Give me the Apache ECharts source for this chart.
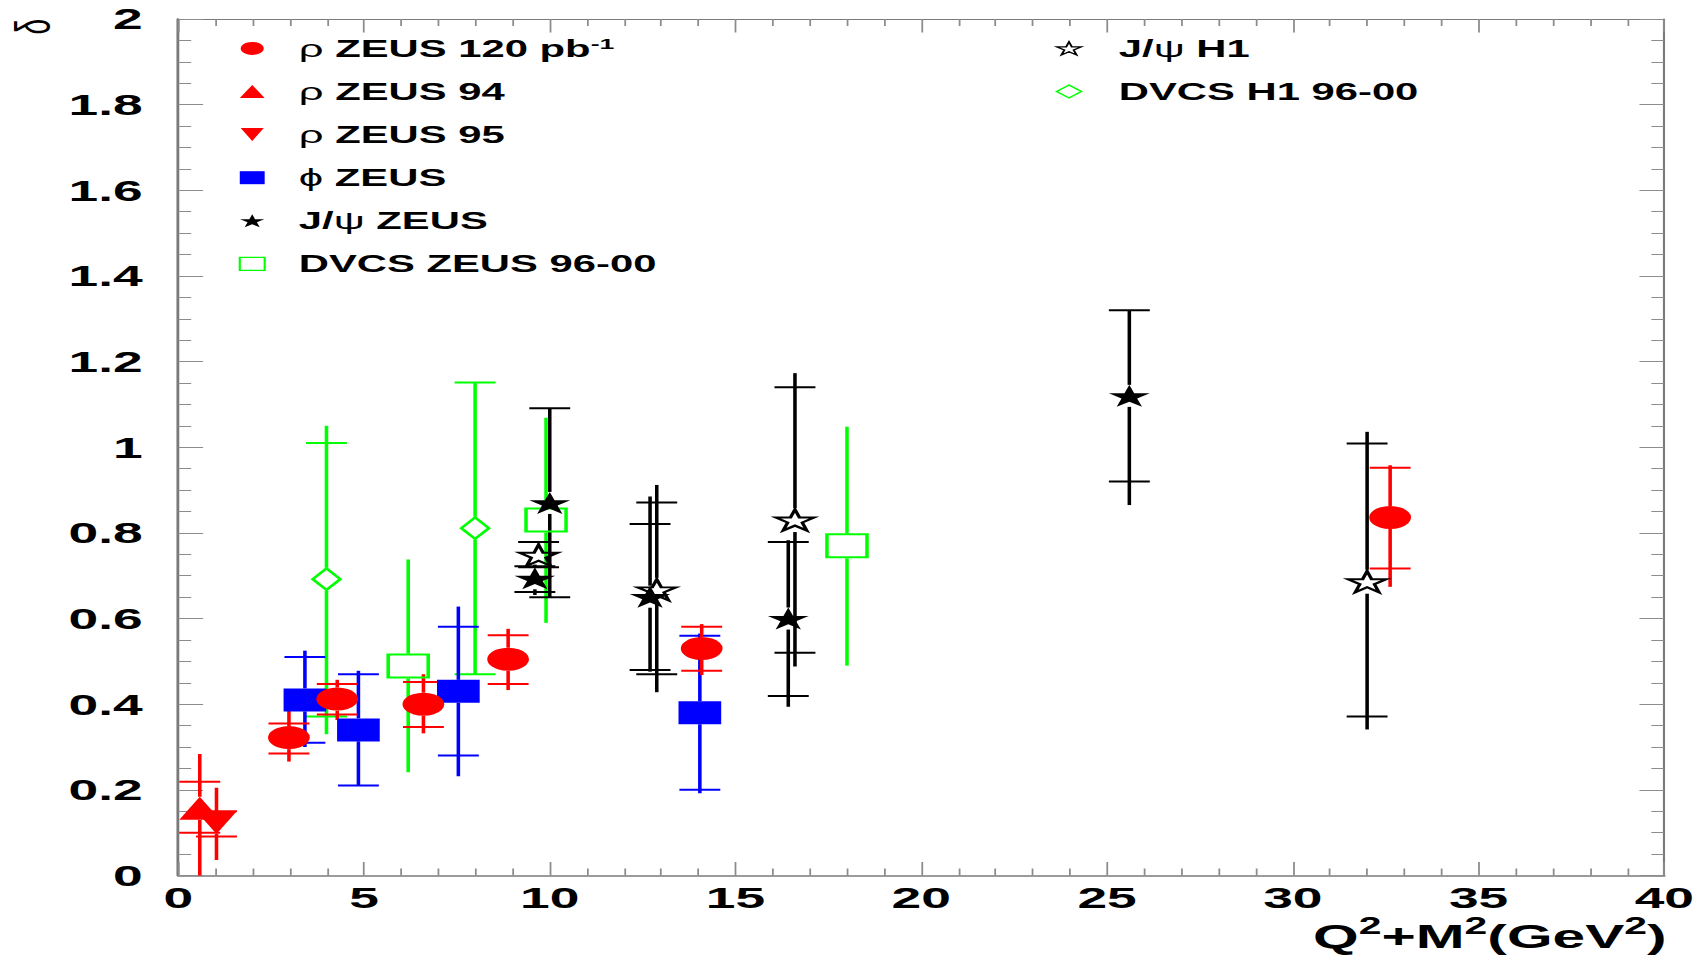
<!DOCTYPE html>
<html>
<head>
<meta charset="utf-8">
<script src="https://cdn.jsdelivr.net/npm/echarts@6/dist/echarts.min.js"></script>
<style>
  html, body { margin: 0; padding: 0; background: #fff; overflow: hidden; }
  #wrap { width: 1704px; height: 958px; overflow: hidden; }
  /* the plot is laid out on a square canvas and widened to the page */
  #chart { width: 958px; height: 958px; transform: scaleX(1.778706); transform-origin: 0 0; }
</style>
</head>
<body>
<div id="wrap"><div id="chart"></div></div>
<script>
// Each point: [Q2+M2, delta, statLow, statHigh, totalLow, totalHigh]
const rhoZeus120 = [
  [2.98, 0.322, 0.285, 0.355, 0.266, 0.396],
  [4.28, 0.412, 0.376, 0.447, 0.363, 0.457],
  [6.60, 0.400, 0.347, 0.452, 0.332, 0.470],
  [8.88, 0.505, 0.447, 0.561, 0.433, 0.576],
  [14.09, 0.530, 0.478, 0.581, 0.468, 0.587],
  [32.62, 0.836, 0.717, 0.952, 0.674, 0.958]
];
const rhoZeus94 = [
  [0.58, 0.157, 0.100, 0.219, -0.05, 0.284]
];
const rhoZeus95 = [
  [1.03, 0.124, 0.091, 0.150, 0.036, 0.205]
];
const phiZeus = [
  [3.41, 0.410, 0.310, 0.510, 0.300, 0.525],
  [4.85, 0.340, 0.210, 0.470, 0.210, 0.478],
  [7.54, 0.430, 0.280, 0.581, 0.232, 0.628],
  [14.04, 0.380, 0.200, 0.560, 0.192, 0.565]
];
const jpsiZeus = [
  [9.60, 0.694, 0.662, 0.722, 0.655, 0.726],
  [10.00, 0.870, 0.650, 1.091, 0.650, 1.091],
  [12.70, 0.651, 0.480, 0.821, 0.476, 0.885],
  [16.42, 0.600, 0.419, 0.779, 0.394, 0.783],
  [25.60, 1.120, 0.920, 1.320, 0.865, 1.320]
];
const jpsiH1 = [
  [9.70, 0.748, 0.720, 0.779, 0.720, 0.779],
  [12.88, 0.667, 0.470, 0.871, 0.428, 0.912],
  [16.60, 0.830, 0.520, 1.140, 0.488, 1.173],
  [32.00, 0.686, 0.371, 1.009, 0.341, 1.036]
];
const dvcsZeus = [
  [6.19, 0.489, null, null, 0.241, 0.738],
  [9.90, 0.830, null, null, 0.590, 1.069],
  [18.00, 0.770, null, null, 0.490, 1.048]
];
const dvcsH1 = [
  [3.99, 0.692, 0.371, 1.010, 0.330, 1.050],
  [7.99, 0.811, 0.470, 1.151, 0.470, 1.151]
];

const FONT = '"Liberation Sans", Arial, Helvetica, sans-serif';
const RED = '#ff0000', BLUE = '#0000ff', GREEN = '#00ff00', BLACK = '#000000';
const STAR = 'path://M50,0L61.23,34.55L97.55,34.55L68.16,55.9L79.39,90.45L50,69.1L20.61,90.45L31.84,55.9L2.45,34.55L38.77,34.55Z';
const TRIANGLE_DOWN = 'path://M0,0L100,0L50,100Z';
const CAP = 11.5;

function isNum(v) { return v !== null && v !== undefined && v !== '-' && !isNaN(v); }

// vertical error line (interrupted by the marker) with crossbars at the statistical limits
function errorRenderer(color, gap) {
  return function (params, api) {
    const x = api.value(0);
    const c = api.coord([x, api.value(1)]);
    const style = { stroke: color, lineWidth: 2, fill: null };
    const kids = [];
    const seg = (x1, y1, x2, y2) => kids.push({ type: 'line', shape: { x1, y1, x2, y2 }, style });
    const tLo = api.coord([x, api.value(4)])[1];
    const tHi = api.coord([x, api.value(5)])[1];
    if (tHi < c[1] - gap) seg(c[0], tHi, c[0], c[1] - gap);
    if (tLo > c[1] + gap) seg(c[0], c[1] + gap, c[0], tLo);
    [api.value(2), api.value(3)].forEach(v => {
      if (isNum(v)) {
        const yy = api.coord([x, v])[1];
        seg(c[0] - CAP, yy, c[0] + CAP, yy);
      }
    });
    return { type: 'group', children: kids };
  };
}

function errSeries(id, rows, color, gap) {
  return {
    type: 'custom', name: id, data: rows, z: 2, silent: true,
    encode: { x: 0, y: 1 },
    renderItem: errorRenderer(color, gap),
    clip: true
  };
}

function markSeries(name, rows, symbol, size, itemStyle) {
  return {
    type: 'scatter', name: name, z: 3, silent: true,
    data: rows.map(r => [r[0], r[1]]),
    symbol: symbol, symbolSize: size,
    itemStyle: Object.assign({ opacity: 1 }, itemStyle),
    emphasis: { disabled: true }
  };
}

const legendText = {
  'ρ ZEUS 120 pb-1': '{g|ρ} {t|ZEUS 120 pb}{s|-1}',
  'ρ ZEUS 94': '{g|ρ} {t|ZEUS 94}',
  'ρ ZEUS 95': '{g|ρ} {t|ZEUS 95}',
  'ϕ ZEUS': '{g|ϕ} {t|ZEUS}',
  'J/ψ ZEUS': '{t|J/}{g|ψ} {t|ZEUS}',
  'DVCS ZEUS 96-00': '{t|DVCS ZEUS 96-00}',
  'J/ψ H1': '{t|J/}{g|ψ} {t|H1}',
  'DVCS H1 96-00': '{t|DVCS H1 96-00}'
};
const legendRich = {
  t: { fontFamily: FONT, fontWeight: 'bold', fontSize: 23.5, lineHeight: 25, color: '#000' },
  g: { fontFamily: FONT, fontWeight: 'normal', fontSize: 24.5, lineHeight: 25, color: '#000' },
  s: { fontFamily: FONT, fontWeight: 'bold', fontSize: 15, lineHeight: 10, verticalAlign: 'top', color: '#000' }
};
function legendBox(left, top, pad, names) {
  return {
    orient: 'vertical', left: left, top: top,
    itemWidth: 14, itemHeight: 13, itemGap: 18.1,
    selectedMode: false,
    data: names,
    itemStyle: { borderWidth: 1.2 },
    formatter: n => legendText[n],
    textStyle: { fontFamily: FONT, fontWeight: 'bold', fontSize: 23.5, lineHeight: 25, color: '#000',
                 padding: [0, 0, 0, pad], rich: legendRich }
  };
}

const axisGrey = '#7a7a7a', tickGrey = '#8c8c8c';
const labelStyle = { fontFamily: FONT, fontWeight: 'bold', fontSize: 30, color: '#000' };

const option = {
  animation: false,
  backgroundColor: '#fff',
  grid: { left: 100.2, right: 22.3, top: 19, bottom: 82.5, containLabel: false, outerBoundsMode: 'none' },
  xAxis: [
    {
      type: 'value', min: 0, max: 40, interval: 5, position: 'bottom',
      axisLine: { show: true, onZero: false, lineStyle: { color: axisGrey, width: 1.6 } },
      axisTick: { show: true, inside: true, length: 13.5, lineStyle: { color: tickGrey, width: 1 } },
      minorTick: { show: true, splitNumber: 5, length: 7, lineStyle: { color: tickGrey, width: 1 } },
      axisLabel: Object.assign({ margin: 7, showMinLabel: true, showMaxLabel: true }, labelStyle),
      splitLine: { show: false }
    },
    {
      type: 'value', min: 0, max: 40, interval: 5, position: 'top',
      axisLine: { show: true, onZero: false, lineStyle: { color: axisGrey, width: 1 } },
      axisTick: { show: true, inside: true, length: 13.5, lineStyle: { color: tickGrey, width: 1 } },
      minorTick: { show: true, splitNumber: 5, length: 7, lineStyle: { color: tickGrey, width: 1 } },
      axisLabel: { show: false },
      splitLine: { show: false }
    }
  ],
  yAxis: [
    {
      type: 'value', min: 0, max: 2, interval: 0.2, position: 'left',
      axisLine: { show: true, onZero: false, lineStyle: { color: axisGrey, width: 1.6 } },
      axisTick: { show: true, inside: true, length: 14, lineStyle: { color: tickGrey, width: 1 } },
      minorTick: { show: true, splitNumber: 4, length: 7.3, lineStyle: { color: tickGrey, width: 1 } },
      axisLabel: Object.assign({ margin: 20, showMinLabel: true, showMaxLabel: true }, labelStyle),
      splitLine: { show: false }
    },
    {
      type: 'value', min: 0, max: 2, interval: 0.2, position: 'right',
      axisLine: { show: true, onZero: false, lineStyle: { color: axisGrey, width: 1.2 } },
      axisTick: { show: true, inside: true, length: 14, lineStyle: { color: tickGrey, width: 1 } },
      minorTick: { show: true, splitNumber: 4, length: 7.3, lineStyle: { color: tickGrey, width: 1 } },
      axisLabel: { show: false },
      splitLine: { show: false }
    }
  ],
  legend: [
    legendBox(129.2, 30.9, 14.2, ['ρ ZEUS 120 pb-1', 'ρ ZEUS 94', 'ρ ZEUS 95', 'ϕ ZEUS', 'J/ψ ZEUS', 'DVCS ZEUS 96-00']),
    legendBox(588.4, 30.9, 16, ['J/ψ H1', 'DVCS H1 96-00'])
  ],
  graphic: [
    {
      type: 'text', x: 937, y: 936.5, silent: true,
      style: {
        text: '{m|Q}{s|2}{m|+M}{s|2}{m|(GeV}{s|2}{m|)}',
        align: 'right', verticalAlign: 'middle',
        rich: {
          m: { fontFamily: FONT, fontWeight: 'bold', fontSize: 33, lineHeight: 44, fill: '#000' },
          s: { fontFamily: FONT, fontWeight: 'bold', fontSize: 23, lineHeight: 22, verticalAlign: 'top', fill: '#000' }
        }
      }
    },
    {
      type: 'text', x: 18.6, y: 26.7, rotation: Math.PI / 2, silent: true,
      style: { text: 'δ', fontFamily: FONT, fontSize: 28, fill: '#000', align: 'center', verticalAlign: 'middle' }
    }
  ],
  series: [
    errSeries('dvcsZeus-err', dvcsZeus, GREEN, 12.5),
    errSeries('dvcsH1-err', dvcsH1, GREEN, 11.5),
    errSeries('phiZeus-err', phiZeus, BLUE, 11.5),
    errSeries('rhoZeus94-err', rhoZeus94, RED, 11.5),
    errSeries('rhoZeus95-err', rhoZeus95, RED, 11.5),
    errSeries('rhoZeus120-err', rhoZeus120, RED, 11.5),
    errSeries('jpsiH1-err', jpsiH1, BLACK, 12),
    errSeries('jpsiZeus-err', jpsiZeus, BLACK, 11),

    markSeries('DVCS ZEUS 96-00', dvcsZeus, 'rect', [22.5, 23], { color: 'rgba(255,255,255,0)', borderColor: GREEN, borderWidth: 2 }),
    markSeries('DVCS H1 96-00', dvcsH1, 'diamond', [15.5, 21.5], { color: 'rgba(255,255,255,0)', borderColor: GREEN, borderWidth: 2 }),
    markSeries('ϕ ZEUS', phiZeus, 'rect', [24, 23], { color: BLUE }),
    markSeries('ρ ZEUS 94', rhoZeus94, 'triangle', [23, 23], { color: RED }),
    markSeries('ρ ZEUS 95', rhoZeus95, TRIANGLE_DOWN, [23, 23], { color: RED }),
    markSeries('ρ ZEUS 120 pb-1', rhoZeus120, 'circle', [23.5, 23], { color: RED }),
    markSeries('J/ψ H1', jpsiH1, STAR, [21.5, 21], { color: 'rgba(255,255,255,0)', borderColor: BLACK, borderWidth: 2 }),
    markSeries('J/ψ ZEUS', jpsiZeus, STAR, [23, 22], { color: BLACK })
  ]
};

const chart = echarts.init(document.getElementById('chart'), null, { renderer: 'svg', width: 958, height: 958 });
chart.setOption(option);
</script>
</body>
</html>
